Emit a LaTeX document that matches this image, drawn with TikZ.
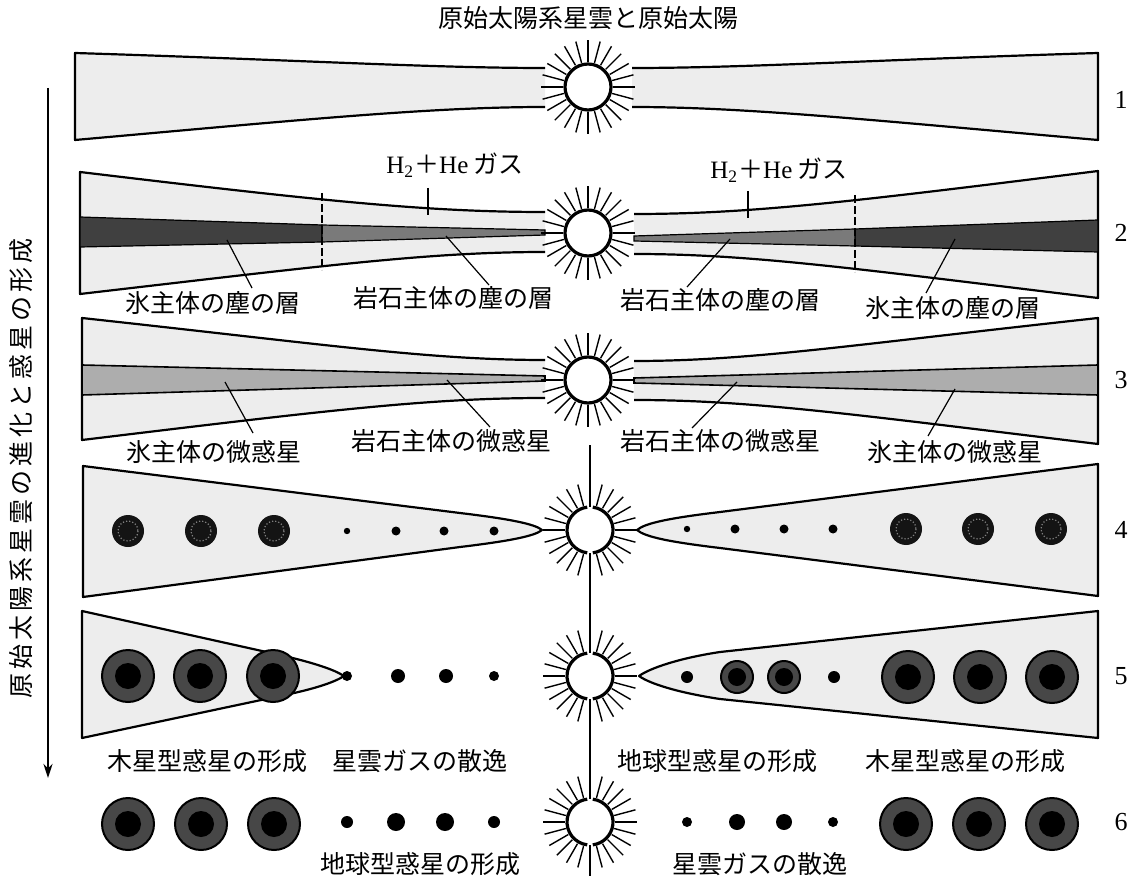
\documentclass[tikz,border=0pt]{standalone}
\usepackage{fontspec}
\setmainfont{Liberation Serif}
\newfontfamily\jp{Noto Sans CJK JP}
\newfontfamily\jpwide[LetterSpace=16]{Noto Sans CJK JP}
\usetikzlibrary{arrows.meta}
\begin{document}
\begin{tikzpicture}[x=0.5pt,y=-0.5pt,
  nebfill/.style={fill=black!7},
  nebedge/.style={line width=1.1pt, line join=round},
  rayline/.style={line width=0.7pt},
  sunring/.style={draw, line width=1.6pt, fill=white},
  lead/.style={line width=0.6pt},
  cut/.style={line width=1pt, dash pattern=on 4pt off 1.5pt},
  lbl/.style={font=\jp\fontsize{12.5}{14}\selectfont, inner sep=0pt},
  num/.style={font=\fontsize{13}{15}\selectfont, inner sep=0pt},
  sunfull/.pic={
    \foreach \a in {0,15,...,345} \draw[rayline] (\a:25) -- (\a:47);
    \draw[sunring] (0,0) circle (23);
  },
  sunsplit/.pic={
    \foreach \a in {-75,-60,...,75} \draw[rayline] (\a:25) -- (\a:47);
    \foreach \a in {105,120,...,255} \draw[rayline] (\a:25) -- (\a:47);
    \fill[white] (0,0) circle (23);
    \draw[line width=1.6pt] (97:23) arc[start angle=97, end angle=263, radius=23];
    \draw[line width=1.6pt] (-83:23) arc[start angle=-83, end angle=83, radius=23];
  },
  corep/.pic={
    \fill[black!92] (0,0) circle (16);
    \draw[black!50, line width=0.6pt, densely dotted] (0,0) circle (10);
  },
  giantp/.pic={
    \filldraw[fill=black!72, draw=black, line width=1pt] (0,0) circle (26);
    \fill[black] (0,0) circle (13);
  },
  midp/.pic={
    \filldraw[fill=black!72, draw=black, line width=1pt] (0,0) circle (16);
    \fill[black] (0,0) circle (9);
  }
]
\useasboundingbox (0,0) rectangle (1138,881);

% ---------- title and side arrow ----------
\node[lbl] (title) at (588,18) {原始太陽系星雲と原始太陽};
\coordinate (arrtop) at (48,88);
\coordinate (arrbot) at (48,778);
\draw[line width=1.2pt, -{Stealth[length=7pt, width=4.5pt]}] (arrtop) -- (arrbot);
\node[lbl, font=\jpwide\fontsize{12.5}{14}\selectfont, rotate=90] (side) at (21,468) {原始太陽系星雲の進化と惑星の形成};

% ---------- row 1 ----------
\fill[nebfill] (75,53) .. controls (300,60) and (430,68) .. (545,68) -- (545,107) .. controls (430,107) and (300,120) .. (75,140) -- cycle;
\draw[nebedge] (545,68) .. controls (430,68) and (300,60) .. (75,53) -- (75,140) .. controls (300,120) and (430,107) .. (545,107);
\fill[nebfill] (1098,53) .. controls (870,60) and (745,68) .. (632,68) -- (632,107) .. controls (745,107) and (870,120) .. (1098,140) -- cycle;
\draw[nebedge] (632,68) .. controls (745,68) and (870,60) .. (1098,53) -- (1098,140) .. controls (870,120) and (745,107) .. (632,107);
\pic at (588,87) {sunfull};
\node[num] (n1) at (1121,100) {1};

% ---------- row 2 ----------
\fill[nebfill] (80,172) .. controls (330,202) and (430,212) .. (545,212) -- (545,252) .. controls (430,252) and (330,265) .. (80,294) -- cycle;
\draw[nebedge] (545,212) .. controls (430,212) and (330,202) .. (80,172) -- (80,294) .. controls (330,265) and (430,252) .. (545,252);
\fill[nebfill] (1098,171) .. controls (850,202) and (750,214) .. (634,214) -- (634,254) .. controls (750,254) and (850,268) .. (1098,298) -- cycle;
\draw[nebedge] (634,214) .. controls (750,214) and (850,202) .. (1098,171) -- (1098,298) .. controls (850,268) and (750,254) .. (634,254);
% dust layers: ice-rich outside the dashed line, rock-rich inside
\filldraw[fill=black!75, line width=0.6pt] (80,217) -- (322,225) -- (322,242) -- (80,247) -- cycle;
\filldraw[fill=black!52, line width=0.6pt] (322,225) -- (545,230) -- (545,235) -- (322,242) -- cycle;
\filldraw[fill=black!75, line width=0.6pt] (1098,220) -- (855,229) -- (855,246) -- (1098,252) -- cycle;
\filldraw[fill=black!52, line width=0.6pt] (855,229) -- (634,236) -- (634,241) -- (855,246) -- cycle;
\coordinate (c2a) at (322,193); \coordinate (c2b) at (322,270);
\coordinate (c2c) at (855,195); \coordinate (c2d) at (855,272);
\draw[cut] (c2a) -- (c2b);
\draw[cut] (c2c) -- (c2d);
\pic at (588,233) {sunfull};
\node[num] (n2) at (1121,233) {2};
% labels
\node[lbl, anchor=west] (gasL) at (386,165) {{\rmfamily H\textsubscript{2}}＋{\rmfamily He} ガス};
\node[lbl, anchor=west] (gasR) at (710,170) {{\rmfamily H\textsubscript{2}}＋{\rmfamily He} ガス};
\coordinate (g2L) at (428,215); \coordinate (g2Lt) at (428,188);
\coordinate (g2R) at (748,218); \coordinate (g2Rt) at (748,191);
\draw[lead] (g2Lt) -- (g2L);
\draw[lead] (g2Rt) -- (g2R);
\node[lbl] (ice2L) at (213,303) {氷主体の塵の層};
\node[lbl] (rock2L) at (453,298) {岩石主体の塵の層};
\node[lbl] (rock2R) at (720,300) {岩石主体の塵の層};
\node[lbl] (ice2R) at (953,308) {氷主体の塵の層};
\coordinate (i2La) at (252,288); \coordinate (i2Lb) at (227,240);
\coordinate (r2La) at (489,285); \coordinate (r2Lb) at (446,236);
\coordinate (r2Ra) at (687,287); \coordinate (r2Rb) at (730,239);
\coordinate (i2Ra) at (926,293); \coordinate (i2Rb) at (955,239);
\draw[lead] (i2La) -- (i2Lb);
\draw[lead] (r2La) -- (r2Lb);
\draw[lead] (r2Ra) -- (r2Rb);
\draw[lead] (i2Ra) -- (i2Rb);

% ---------- row 3 ----------
\fill[nebfill] (82,318) .. controls (330,345) and (430,360) .. (545,360) -- (545,398) .. controls (430,398) and (330,410) .. (82,440) -- cycle;
\draw[nebedge] (545,360) .. controls (430,360) and (330,345) .. (82,318) -- (82,440) .. controls (330,410) and (430,398) .. (545,398);
\fill[nebfill] (1098,318) .. controls (850,345) and (750,361) .. (634,361) -- (634,400) .. controls (750,400) and (850,414) .. (1098,444) -- cycle;
\draw[nebedge] (634,361) .. controls (750,361) and (850,345) .. (1098,318) -- (1098,444) .. controls (850,414) and (750,400) .. (634,400);
\filldraw[fill=black!32, line width=0.8pt] (82,365) -- (545,376) -- (545,381) -- (82,395) -- cycle;
\filldraw[fill=black!32, line width=0.8pt] (1098,365) -- (634,378) -- (634,383) -- (1098,395) -- cycle;
\pic at (588,380) {sunfull};
\node[num] (n3) at (1121,380) {3};
\node[lbl] (ice3L) at (214,452) {氷主体の微惑星};
\node[lbl] (rock3L) at (451,441) {岩石主体の微惑星};
\node[lbl] (rock3R) at (720,441) {岩石主体の微惑星};
\node[lbl] (ice3R) at (955,452) {氷主体の微惑星};
\coordinate (i3La) at (253,433); \coordinate (i3Lb) at (225,382);
\coordinate (r3La) at (490,427); \coordinate (r3Lb) at (447,380);
\coordinate (r3Ra) at (692,428); \coordinate (r3Rb) at (737,382);
\coordinate (i3Ra) at (928,436); \coordinate (i3Rb) at (955,389);
\draw[lead] (i3La) -- (i3Lb);
\draw[lead] (r3La) -- (r3Lb);
\draw[lead] (r3Ra) -- (r3Rb);
\draw[lead] (i3Ra) -- (i3Rb);

% ---------- central divider ----------
\coordinate (divtop) at (590,445);
\coordinate (divbot) at (590,876);
\draw[line width=0.7pt] (divtop) -- (divbot);

% ---------- row 4 ----------
\filldraw[nebfill, nebedge] (83,466) -- (460,513) .. controls (510,519) and (535,524) .. (542,530) .. controls (535,536) and (510,541) .. (460,547) -- (83,597) -- cycle;
\filldraw[nebfill, nebedge] (1098,464) -- (720,512) .. controls (670,518) and (645,523) .. (637,530) .. controls (645,537) and (670,542) .. (720,548) -- (1098,596) -- cycle;
\pic at (590,530) {sunsplit};
\node[num] (n4) at (1121,530) {4};
\foreach \x in {128,201,274} \pic at (\x,531) {corep};
\fill (347,531) circle (3.2);
\foreach \x in {396,444,494} \fill (\x,531) circle (4.5);
\foreach \x in {906,978,1051} \pic at (\x,529) {corep};
\fill (687,529) circle (3.2);
\foreach \x in {735,784,833} \fill (\x,529) circle (4.5);

% ---------- row 5 ----------
\filldraw[nebfill, nebedge] (82,611) -- (280,655) .. controls (315,663) and (335,670) .. (344,676) .. controls (335,682) and (315,689) .. (280,696) -- (82,738) -- cycle;
\filldraw[nebfill, nebedge] (1098,611) -- (720,652) .. controls (680,658) and (650,668) .. (639,676) .. controls (650,684) and (680,693) .. (720,699) -- (1098,738) -- cycle;
\pic at (590,676) {sunsplit};
\node[num] (n5) at (1121,676) {5};
\foreach \x in {128,200,273} \pic at (\x,676) {giantp};
\fill (347,676) circle (5);
\fill (398,676) circle (7);
\fill (446,676) circle (7);
\fill (494,676) circle (5);
\fill (687,677) circle (6);
\pic at (737,677) {midp};
\pic at (784,677) {midp};
\fill (834,677) circle (6);
\foreach \x in {908,980,1052} \pic at (\x,677) {giantp};
\node[lbl] (jov5L) at (207,761) {木星型惑星の形成};
\node[lbl] (gas5L) at (420,761) {星雲ガスの散逸};
\node[lbl] (ter5R) at (717,761) {地球型惑星の形成};
\node[lbl] (jov5R) at (965,761) {木星型惑星の形成};

% ---------- row 6 ----------
\pic at (590,822) {sunsplit};
\node[num] (n6) at (1121,822) {6};
\foreach \x in {128,201,274} \pic at (\x,824) {giantp};
\fill (347,822) circle (6);
\fill (396,822) circle (9);
\fill (445,822) circle (9);
\fill (494,822) circle (6);
\fill (687,822) circle (5);
\fill (737,822) circle (8);
\fill (784,822) circle (8);
\fill (833,822) circle (5);
\foreach \x in {906,979,1052} \pic at (\x,824) {giantp};
\node[lbl] (ter6L) at (420,864) {地球型惑星の形成};
\node[lbl] (gas6R) at (760,864) {星雲ガスの散逸};
\end{tikzpicture}
\end{document}
